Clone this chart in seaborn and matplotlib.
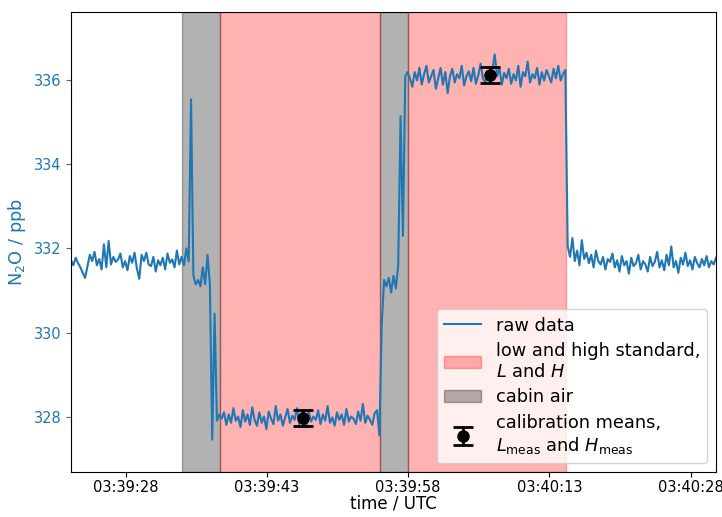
import matplotlib
matplotlib.use('Agg')

import matplotlib.pyplot as plt
import matplotlib.dates as mdates
import seaborn as sb
import pandas as pd
import numpy as np

# raw N2O trace, 4 Hz samples, split by phase
day = "2000-01-01 "
start_time = day + "03:39:22.2"
dt_s = 0.25

ambient_before = [331.72, 331.60, 331.78, 331.65, 331.55, 331.42, 331.30, 331.58, 331.85, 331.70,
                  331.92, 331.60, 331.75, 331.50, 332.10, 331.55, 332.18, 331.62, 331.80, 331.68,
                  331.74, 331.88, 331.55, 331.70, 331.48, 331.82, 331.66, 331.90, 331.52, 331.28,
                  331.85, 331.70, 331.90, 331.62, 331.58, 331.80, 331.45, 331.72, 331.60, 331.78,
                  331.50, 331.88, 331.66, 331.74, 331.55, 331.95, 331.62, 331.80]
cabin_1 = [331.60, 332.00, 331.70, 335.55, 331.35, 331.15, 331.25, 331.10, 331.55, 331.15,
           331.85, 331.15, 327.45, 330.45, 327.90, 328.05]
low_std = [327.95, 328.10, 327.80, 328.05, 327.85, 328.20, 327.90, 328.00, 327.75, 328.15,
           327.88, 328.05, 327.80, 328.22, 327.92, 327.78, 328.10, 327.85, 328.00, 327.70,
           328.12, 327.95, 327.82, 328.25, 327.90, 328.05, 327.78, 327.98, 328.18, 327.85,
           328.02, 327.92, 328.20, 327.80, 328.08, 327.95, 327.75, 328.12, 327.88, 328.00,
           327.92, 328.15, 327.82, 328.05, 327.90, 328.25, 327.85, 327.98, 327.78, 328.10,
           327.92, 328.05, 327.80, 328.18, 327.88, 328.00, 327.95, 327.82, 328.12, 327.90,
           328.30, 327.85, 328.02, 327.92, 327.80, 328.08, 328.15]
cabin_2 = [327.55, 330.20, 331.25, 331.10, 331.30, 330.95, 331.35, 331.05, 331.60, 335.15,
           332.30, 336.10, 336.20]
high_std = [336.05, 335.85, 336.20, 336.00, 336.30, 335.90, 336.15, 336.35, 335.95, 336.10,
            336.25, 335.80, 336.05, 336.30, 335.90, 336.20, 335.70, 336.10, 336.28, 335.95,
            336.15, 336.05, 336.35, 335.88, 336.10, 336.22, 335.98, 336.30, 335.92, 336.12,
            336.40, 336.05, 335.95, 336.20, 336.00, 336.25, 336.62, 336.10, 336.30, 335.90,
            336.18, 336.05, 336.28, 335.92, 336.15, 336.00, 336.35, 335.85, 336.20, 336.10,
            336.45, 335.95, 336.15, 336.05, 336.30, 335.90, 336.20, 336.00, 336.25, 336.10,
            335.95, 336.28, 336.05, 336.35, 336.00, 336.15, 336.25]
ambient_after = [332.05, 331.80, 332.25, 331.70, 331.95, 331.60, 332.20, 331.75, 331.90, 331.65,
                 331.85, 331.55, 331.95, 331.70, 331.62, 331.80, 331.50, 331.75, 331.68, 331.88,
                 331.55, 331.72, 331.45, 331.82, 331.60, 331.70, 331.40, 331.78, 331.58, 331.65,
                 331.85, 331.50, 331.70, 331.62, 331.45, 331.80, 331.58, 331.68, 331.92, 331.55,
                 331.72, 331.48, 331.85, 331.60, 332.05, 331.55, 331.70, 331.42, 331.78, 331.62,
                 331.90, 331.58, 331.72, 331.50, 331.80, 331.65, 331.55, 331.75, 331.60, 331.82,
                 331.55, 331.70, 331.62, 331.78]

# phases
cabin_starts = ["03:39:34.0", "03:39:55.0"]
cabin_ends = ["03:39:38.0", "03:39:58.0"]
std_starts = ["03:39:38.0", "03:39:58.0"]
std_ends = ["03:39:55.0", "03:40:14.8"]

# calibration means
cal_times = ["03:39:46.8", "03:40:06.7"]
cal_means = [327.97, 336.12]
cal_errs = [0.19, 0.19]

tick_labels = ["03:39:28", "03:39:43", "03:39:58", "03:40:13", "03:40:28"]

values = ambient_before + cabin_1 + low_std + cabin_2 + high_std + ambient_after
times = pd.Timestamp(start_time) + pd.to_timedelta(np.arange(len(values)) * dt_s, unit="s")
df = pd.DataFrame({"time": times, "n2o": values})

blue = "#1f77b4"
fig = plt.figure(figsize=(7.22, 5.17), dpi=100)
ax = fig.add_axes([0.0983, 0.0871, 0.8934, 0.8897])

sb.lineplot(data=df, x="time", y="n2o", ax=ax, color=blue, lw=1.5, label="raw data")
hl = ax.get_lines()[0]

red_patch = None
for s, e in zip(std_starts, std_ends):
    red_patch = ax.axvspan(pd.Timestamp(day + s), pd.Timestamp(day + e), color="red", alpha=0.3)
grey_patch = None
for s, e in zip(cabin_starts, cabin_ends):
    grey_patch = ax.axvspan(pd.Timestamp(day + s), pd.Timestamp(day + e), color="k", alpha=0.3)

cal_t = [pd.Timestamp(day + t) for t in cal_times]
eb = ax.errorbar(cal_t, cal_means, yerr=cal_errs, fmt="o", color="k", ms=8,
                 capsize=7, elinewidth=2, capthick=2)

ax.set_xlim(df["time"].iloc[0], df["time"].iloc[-1])
ax.set_ylim(326.68, 337.63)
ax.set_yticks([328, 330, 332, 334, 336])
ax.set_xticks([pd.Timestamp(day + t) for t in tick_labels])
ax.xaxis.set_major_formatter(mdates.DateFormatter("%H:%M:%S"))
ax.tick_params(axis="both", labelsize=10.5)
ax.tick_params(axis="x", pad=2)
ax.tick_params(axis="y", colors=blue)

ax.set_xlabel("time / UTC", fontsize=12, labelpad=0)
ax.set_ylabel("N$_2$O / ppb", fontsize=12.8, color=blue)

ax.legend([hl, red_patch, grey_patch, eb],
          ["raw data", "low and high standard,\n$L$ and $H$", "cabin air",
           "calibration means,\n$L_\\mathrm{meas}$ and $H_\\mathrm{meas}$"],
          loc="lower right", fontsize=12.8, handlelength=2.1, labelspacing=0.42)

plt.savefig("out.png", dpi=100)
